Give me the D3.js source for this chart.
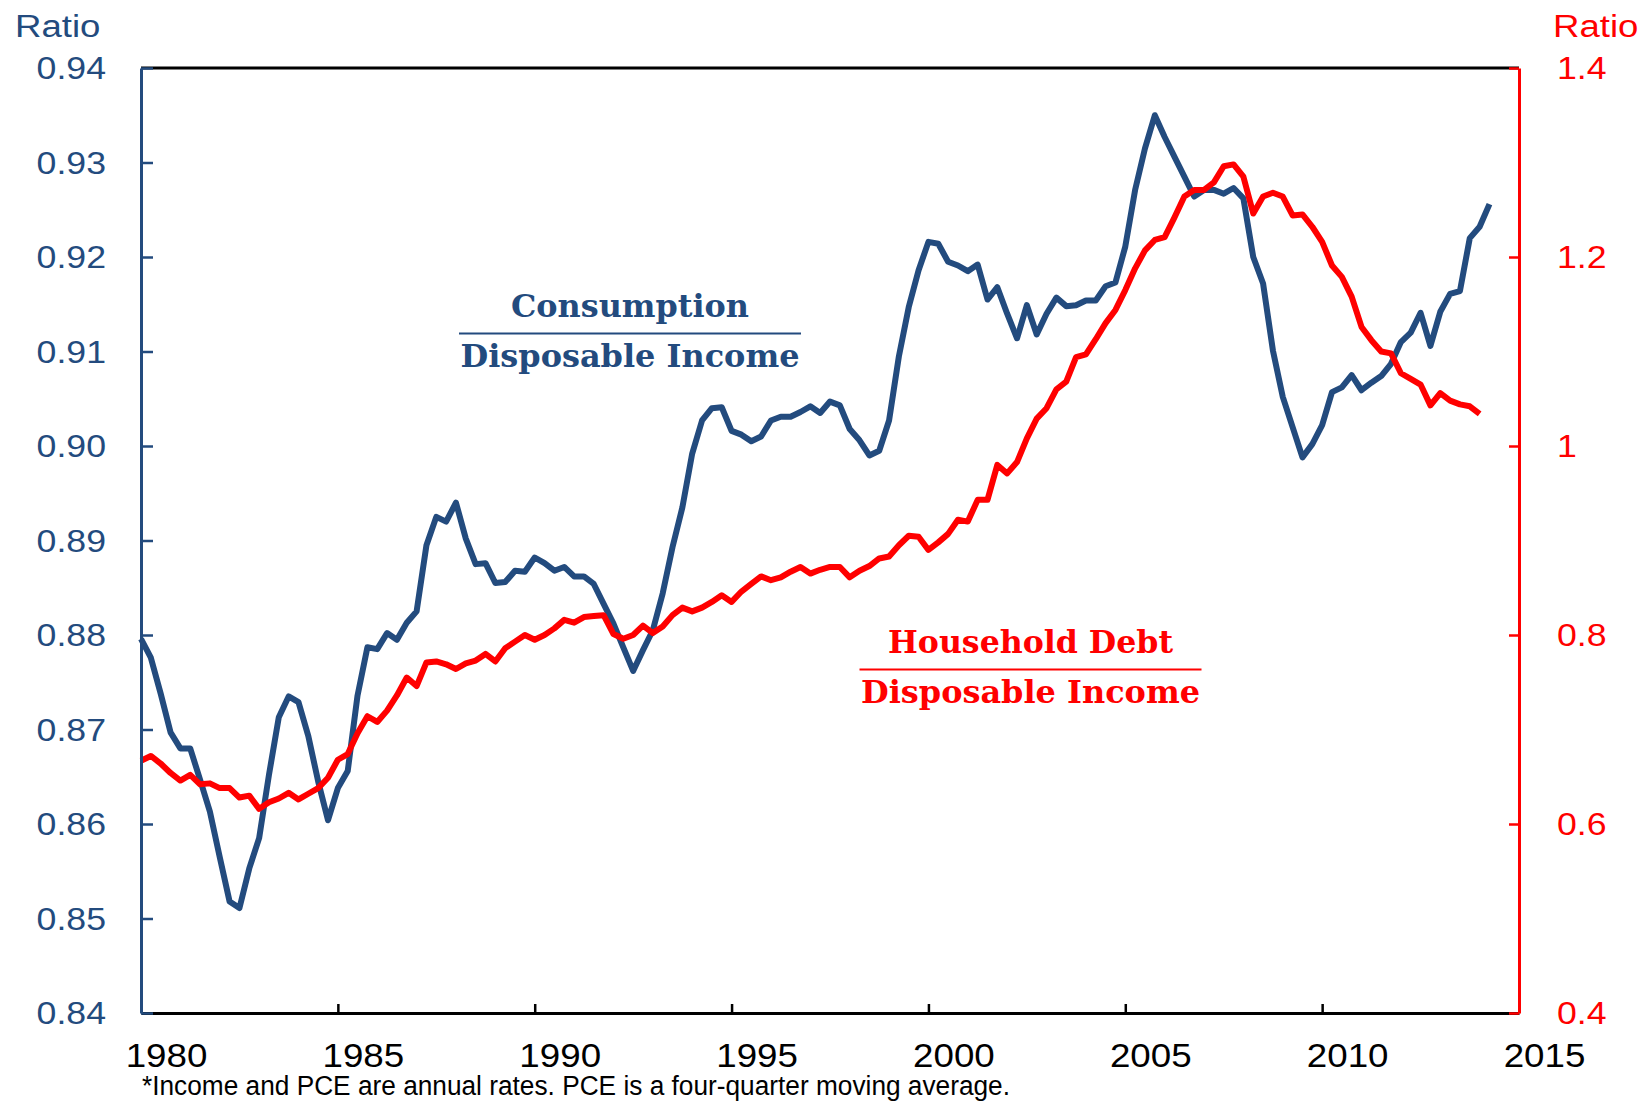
<!DOCTYPE html>
<html>
<head>
<meta charset="utf-8">
<title>Consumption and household debt relative to disposable income</title>
<script src="https://d3js.org/d3.v7.min.js"></script>
<style>
  body { margin: 0; background: #fff; }
  text { font-family: "Liberation Sans", Arial, sans-serif; }
  text.frac { font-family: "DejaVu Serif", "Liberation Serif", serif; font-weight: bold; font-size: 32px; }
</style>
</head>
<body>
<svg width="1646" height="1101" id="mainsvg"></svg>
<script>
// quarterly values, first point is 1980 Q1
const startYear = 1980;
const consumptionRatio = [
  0.8796, 0.8776, 0.8738, 0.8697, 0.8680, 0.8680, 0.8647, 0.8613, 0.8565, 0.8518,
  0.8511, 0.8553, 0.8585, 0.8652, 0.8713, 0.8735, 0.8729, 0.8693, 0.8645, 0.8604,
  0.8638, 0.8656, 0.8736, 0.8787, 0.8785, 0.8802, 0.8795, 0.8813, 0.8825, 0.8895,
  0.8925, 0.8920, 0.8940, 0.8902, 0.8875, 0.8876, 0.8855, 0.8856, 0.8868, 0.8867,
  0.8882, 0.8876, 0.8868, 0.8872, 0.8862, 0.8862, 0.8854, 0.8833, 0.8812, 0.8787,
  0.8762, 0.8784, 0.8805, 0.8844, 0.8893, 0.8935, 0.8992, 0.9027, 0.9040, 0.9041,
  0.9016, 0.9012, 0.9005, 0.9010, 0.9027, 0.9031, 0.9031, 0.9036, 0.9042, 0.9035,
  0.9047, 0.9043, 0.9018, 0.9006, 0.8990, 0.8995, 0.9027, 0.9095, 0.9147, 0.9186,
  0.9216, 0.9214, 0.9195, 0.9191, 0.9185, 0.9192, 0.9155, 0.9168, 0.9140, 0.9114,
  0.9149, 0.9118, 0.9140, 0.9157, 0.9148, 0.9149, 0.9154, 0.9154, 0.9169, 0.9173,
  0.9211, 0.9271, 0.9315, 0.9350, 0.9327, 0.9306, 0.9285, 0.9264, 0.9271, 0.9271,
  0.9267, 0.9273, 0.9262, 0.9200, 0.9172, 0.9101, 0.9052, 0.9020, 0.8988, 0.9002,
  0.9022, 0.9057, 0.9062, 0.9075, 0.9059, 0.9067, 0.9074, 0.9087, 0.9110, 0.9120,
  0.9141, 0.9106, 0.9142, 0.9161, 0.9164, 0.9220, 0.9232, 0.9256
];
const debtRatio = [
  0.667, 0.672, 0.664, 0.654, 0.646, 0.652, 0.642, 0.643, 0.638, 0.638,
  0.628, 0.630, 0.616, 0.623, 0.627, 0.633, 0.626, 0.632, 0.638, 0.649,
  0.668, 0.674, 0.696, 0.714, 0.708, 0.720, 0.736, 0.755, 0.746, 0.771,
  0.772, 0.769, 0.764, 0.770, 0.773, 0.780, 0.772, 0.786, 0.793, 0.800,
  0.795, 0.800, 0.807, 0.816, 0.813, 0.819, 0.820, 0.821, 0.801, 0.796,
  0.800, 0.810, 0.802, 0.809, 0.821, 0.829, 0.825, 0.829, 0.835, 0.842,
  0.835, 0.846, 0.854, 0.862, 0.858, 0.861, 0.867, 0.872, 0.865, 0.869,
  0.872, 0.872, 0.861, 0.868, 0.873, 0.881, 0.883, 0.895, 0.905, 0.904,
  0.890, 0.898, 0.907, 0.922, 0.920, 0.943, 0.943, 0.980, 0.971, 0.983,
  1.008, 1.029, 1.040, 1.060, 1.068, 1.094, 1.097, 1.113, 1.130, 1.144,
  1.165, 1.188, 1.207, 1.218, 1.221, 1.242, 1.264, 1.271, 1.271, 1.279,
  1.296, 1.298, 1.285, 1.246, 1.264, 1.268, 1.264, 1.244, 1.245, 1.232,
  1.216, 1.191, 1.179, 1.158, 1.126, 1.112, 1.100, 1.098, 1.077, 1.071,
  1.065, 1.043, 1.056, 1.048, 1.044, 1.042, 1.034
];
const yearTicks = [1980, 1985, 1990, 1995, 2000, 2005, 2010, 2015];
const leftTicks = [0.84, 0.85, 0.86, 0.87, 0.88, 0.89, 0.90, 0.91, 0.92, 0.93, 0.94];
const rightTicks = [0.4, 0.6, 0.8, 1.0, 1.2, 1.4];
const footnote = '*Income and PCE are annual rates. PCE is a four-quarter moving average.';

const blue = '#234b7e', red = '#ff0000';

const svg = d3.select('#mainsvg');
const margin = { top: 68, right: 127, bottom: 88, left: 141 };
const innerWidth = svg.attr('width') - margin.left - margin.right;
const innerHeight = svg.attr('height') - margin.top - margin.bottom;
const g = svg.append('g').attr('transform', `translate(${margin.left},${margin.top})`);

const x = d3.scaleLinear().domain([1980, 2015]).range([0, innerWidth]);
const yL = d3.scaleLinear().domain([0.84, 0.94]).range([innerHeight, 0]);
const yR = d3.scaleLinear().domain([0.4, 1.4]).range([innerHeight, 0]);

// the original labels are a bit wider than Arial, stretch them
function widen(sel, k) {
  sel.each(function () {
    this.setAttribute('textLength', this.getComputedTextLength() * k);
    this.setAttribute('lengthAdjust', 'spacingAndGlyphs');
  });
}

// top frame
g.append('line')
  .attr('x1', 0).attr('x2', innerWidth).attr('y1', 0).attr('y2', 0)
  .attr('stroke', '#000').attr('stroke-width', 3);

// bottom axis
const xAxis = g.append('g').attr('transform', `translate(0,${innerHeight})`)
  .call(d3.axisBottom(x).tickValues(yearTicks).tickSize(-9).tickSizeOuter(0).tickFormat(d3.format('d')));
xAxis.select('.domain').attr('stroke', '#000').attr('stroke-width', 3);
xAxis.selectAll('.tick line').attr('stroke', '#000').attr('stroke-width', 2.5);
xAxis.selectAll('.tick text')
  .attr('x', 25).attr('y', 54).attr('dy', 0)
  .attr('fill', '#000').style('font-size', '34px')
  .call(widen, 1.08);

// series
const qx = i => x(startYear + i / 4);
const lineL = d3.line().x((d, i) => qx(i)).y(d => yL(d));
const lineR = d3.line().x((d, i) => qx(i)).y(d => yR(d));

g.append('path').datum(consumptionRatio)
  .attr('fill', 'none').attr('stroke', blue).attr('stroke-width', 6)
  .attr('stroke-linejoin', 'round').attr('d', lineL);
g.append('path').datum(debtRatio)
  .attr('fill', 'none').attr('stroke', red).attr('stroke-width', 6)
  .attr('stroke-linejoin', 'round').attr('d', lineR);

// left axis
const leftAxis = g.append('g')
  .call(d3.axisLeft(yL).tickValues(leftTicks).tickSize(-12).tickSizeOuter(0).tickFormat(d3.format('.2f')));
leftAxis.select('.domain').attr('stroke', blue).attr('stroke-width', 3);
leftAxis.selectAll('.tick line').attr('stroke', blue).attr('stroke-width', 2.5);
leftAxis.selectAll('.tick text')
  .attr('x', -35).attr('dy', '0.35em')
  .attr('fill', blue).style('font-size', '31px')
  .call(widen, 1.15);

// right axis
const rightAxis = g.append('g').attr('transform', `translate(${innerWidth},0)`)
  .call(d3.axisRight(yR).tickValues(rightTicks).tickSize(-10).tickSizeOuter(0)
    .tickFormat(d => d === 1 ? '1' : d3.format('.1f')(d)));
rightAxis.select('.domain').attr('stroke', red).attr('stroke-width', 3);
rightAxis.selectAll('.tick line').attr('stroke', red).attr('stroke-width', 2.5);
rightAxis.selectAll('.tick text')
  .attr('x', 38).attr('dy', '0.35em')
  .attr('fill', red).style('font-size', '31px')
  .call(widen, 1.15);

// axis titles
svg.append('text').text('Ratio')
  .attr('x', 15).attr('y', 37)
  .attr('fill', blue).style('font-size', '31px')
  .call(widen, 1.18);
svg.append('text').text('Ratio')
  .attr('x', 1553).attr('y', 37)
  .attr('fill', red).style('font-size', '31px')
  .call(widen, 1.18);

// fraction labels
function fraction(cx, top, num, numWidth, color) {
  const f = g.append('g');
  f.append('text').attr('class', 'frac').text(num)
    .attr('x', cx - margin.left).attr('y', top - margin.top)
    .attr('text-anchor', 'middle').attr('fill', color)
    .attr('textLength', numWidth).attr('lengthAdjust', 'spacingAndGlyphs');
  f.append('line')
    .attr('x1', cx - margin.left - 171).attr('x2', cx - margin.left + 171)
    .attr('y1', top - margin.top + 16.5).attr('y2', top - margin.top + 16.5)
    .attr('stroke', color).attr('stroke-width', 2);
  f.append('text').attr('class', 'frac').text('Disposable Income')
    .attr('x', cx - margin.left).attr('y', top - margin.top + 50)
    .attr('text-anchor', 'middle').attr('fill', color)
    .attr('textLength', 339).attr('lengthAdjust', 'spacingAndGlyphs');
}
fraction(630, 317, 'Consumption', 238, blue);
fraction(1030.5, 653, 'Household Debt', 285, red);

// footnote
svg.append('text').text(footnote)
  .attr('x', 142).attr('y', 1095)
  .attr('textLength', 868).attr('lengthAdjust', 'spacingAndGlyphs')
  .attr('fill', '#000').style('font-size', '27px');
</script>
</body>
</html>
